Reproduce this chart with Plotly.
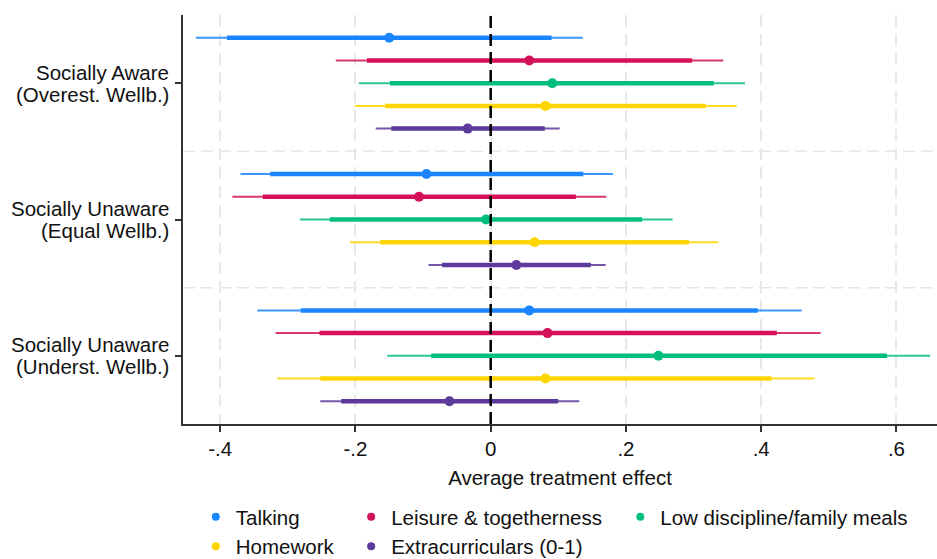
import plotly.graph_objects as go

# Groups (top to bottom), each label on two lines
group_line1 = ["Socially Aware", "Socially Unaware", "Socially Unaware"]
group_line2 = ["(Overest. Wellb.)", "(Equal Wellb.)", "(Underst. Wellb.)"]
categories = ["Talking", "Leisure & togetherness", "Low discipline/family meals",
              "Homework", "Extracurriculars (0-1)"]
colors = ["#1A85FF", "#D41159", "#00BF7D", "#FFD500", "#5D3A9B"]

# Point estimates, one list per category, one value per group
est_talking = [-0.150, -0.095, 0.057]
est_leisure = [0.057, -0.106, 0.084]
est_lowdisc = [0.091, -0.007, 0.248]
est_homework = [0.081, 0.065, 0.081]
est_extra = [-0.034, 0.038, -0.061]

# 90% confidence intervals (thick bars)
lo90_talking = [-0.390, -0.326, -0.281]
hi90_talking = [0.090, 0.137, 0.395]
lo90_leisure = [-0.183, -0.337, -0.253]
hi90_leisure = [0.298, 0.126, 0.423]
lo90_lowdisc = [-0.149, -0.238, -0.088]
hi90_lowdisc = [0.330, 0.224, 0.586]
lo90_homework = [-0.156, -0.163, -0.252]
hi90_homework = [0.318, 0.293, 0.415]
lo90_extra = [-0.147, -0.072, -0.221]
hi90_extra = [0.080, 0.148, 0.100]

# 95% confidence intervals (thin bars)
lo95_talking = [-0.436, -0.370, -0.345]
hi95_talking = [0.136, 0.181, 0.460]
lo95_leisure = [-0.229, -0.382, -0.318]
hi95_leisure = [0.344, 0.171, 0.488]
lo95_lowdisc = [-0.195, -0.282, -0.153]
hi95_lowdisc = [0.376, 0.269, 0.650]
lo95_homework = [-0.201, -0.208, -0.316]
hi95_homework = [0.364, 0.337, 0.479]
lo95_extra = [-0.170, -0.092, -0.252]
hi95_extra = [0.102, 0.170, 0.131]

x_tickvals = [-0.4, -0.2, 0, 0.2, 0.4, 0.6]
x_ticktext = ["-.4", "-.2", "0", ".2", ".4", ".6"]

estimates = [est_talking, est_leisure, est_lowdisc, est_homework, est_extra]
lo90 = [lo90_talking, lo90_leisure, lo90_lowdisc, lo90_homework, lo90_extra]
hi90 = [hi90_talking, hi90_leisure, hi90_lowdisc, hi90_homework, hi90_extra]
lo95 = [lo95_talking, lo95_leisure, lo95_lowdisc, lo95_homework, lo95_extra]
hi95 = [hi95_talking, hi95_leisure, hi95_lowdisc, hi95_homework, hi95_extra]

n_groups = len(group_line1)
n_cat = len(categories)
step = n_cat + 1  # one empty slot between groups


def row(g, c):
    return g * step + c


legend_of = ["legend", "legend2", "legend3", "legend", "legend2"]
FS = 20.5
font = "Liberation Sans, Arial, sans-serif"

fig = go.Figure()
for c, name in enumerate(categories):
    ys = [row(g, c) for g in range(n_groups)]
    xs95, ys95, xs90, ys90 = [], [], [], []
    for g, y in enumerate(ys):
        xs95 += [lo95[c][g], hi95[c][g], None]
        ys95 += [y, y, None]
        xs90 += [lo90[c][g], hi90[c][g], None]
        ys90 += [y, y, None]
    fig.add_trace(go.Scatter(x=xs95, y=ys95, mode="lines",
                             line=dict(color=colors[c], width=2),
                             opacity=0.85, showlegend=False, hoverinfo="skip"))
    fig.add_trace(go.Scatter(x=xs90, y=ys90, mode="lines",
                             line=dict(color=colors[c], width=4.5),
                             showlegend=False, hoverinfo="skip"))
    fig.add_trace(go.Scatter(x=estimates[c], y=ys, mode="markers",
                             marker=dict(color=colors[c], size=10),
                             showlegend=False, name=name))
    # legend entry with a smaller dot
    fig.add_trace(go.Scatter(x=[None], y=[None], mode="markers",
                             marker=dict(color=colors[c], size=8),
                             name=name, legend=legend_of[c]))

# dashed separators between groups
for g in range(n_groups - 1):
    fig.add_hline(y=row(g, n_cat), line=dict(color="#e6e6e6", width=1.5, dash="12px,6px"),
                  layer="below")

# reference line at zero effect
fig.add_vline(x=0, line=dict(color="black", width=2.5, dash="12px,6px"))

# two-line group labels next to the y ticks
centers = [row(g, (n_cat - 1) / 2) for g in range(n_groups)]
for g in range(n_groups):
    for text, shift in ((group_line1[g], 11), (group_line2[g], -11)):
        fig.add_annotation(x=0, xref="paper", y=centers[g], yref="y", text=text,
                           showarrow=False, xanchor="right", yanchor="middle",
                           xshift=-12, yshift=shift,
                           font=dict(family=font, size=FS, color="#111"))

legend_common = dict(orientation="v", xanchor="left", yanchor="top", y=-0.178,
                     font=dict(family=font, size=FS, color="#111"),
                     bgcolor="rgba(0,0,0,0)", itemwidth=30, tracegroupgap=0)

fig.update_layout(
    width=937, height=559,
    margin=dict(l=183, r=0, t=15, b=135, autoexpand=False),
    plot_bgcolor="white", paper_bgcolor="white",
    font=dict(family=font, size=FS, color="#111"),
    xaxis=dict(range=[-0.455, 0.66], tickvals=x_tickvals, ticktext=x_ticktext,
               showgrid=True, gridcolor="#e8e8e8", gridwidth=2, griddash="12px,7px",
               zeroline=False, showline=True, linecolor="#333", linewidth=1.5,
               ticks="outside", ticklen=6, tickcolor="#333", tickwidth=1.5,
               tickfont=dict(size=FS), ticklabelstandoff=0,
               title=dict(text="Average treatment effect", font=dict(size=FS), standoff=11)),
    yaxis=dict(range=[step * n_groups - 1, -1],
               tickvals=centers, ticktext=["" for _ in centers],
               showgrid=False, zeroline=False,
               showline=True, linecolor="#333", linewidth=1.5,
               ticks="outside", ticklen=6, tickcolor="#333", tickwidth=1.5),
    legend=dict(x=0.017, **legend_common),
    legend2=dict(x=0.223, **legend_common),
    legend3=dict(x=0.580, **legend_common),
)

fig.write_html("out.html")
